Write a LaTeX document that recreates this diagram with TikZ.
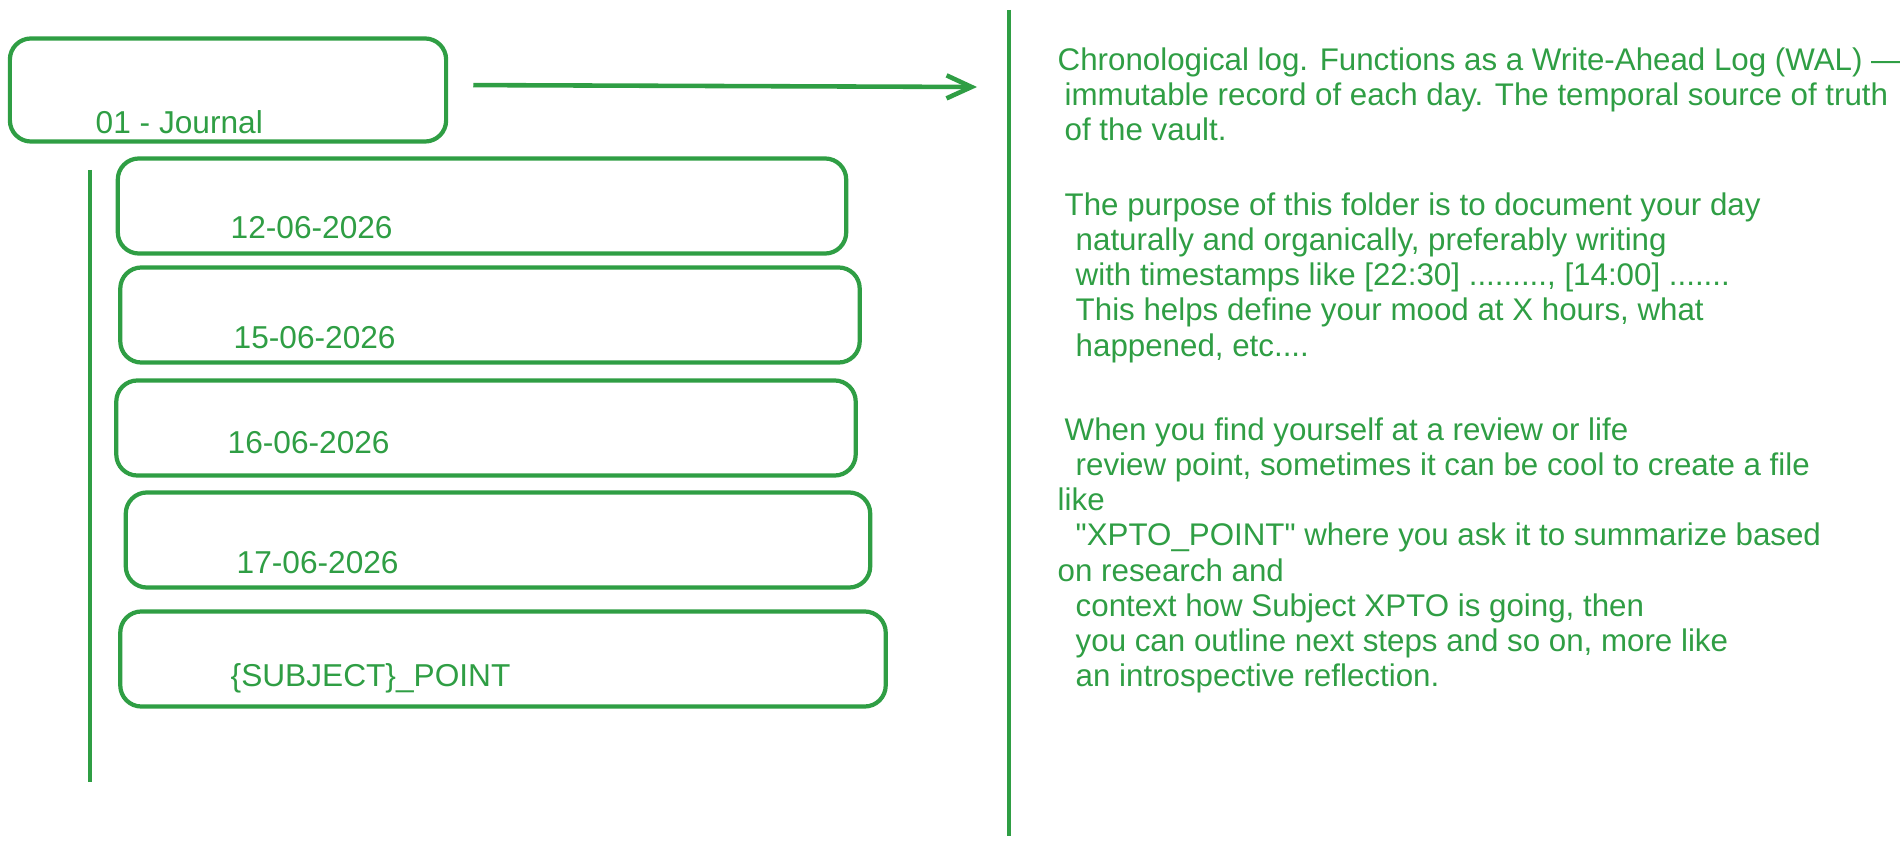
\documentclass[tikz,border=0pt]{standalone}
\usepackage{fontspec}
\setmainfont{Liberation Sans}
\usetikzlibrary{arrows.meta,positioning}

\definecolor{jgreen}{HTML}{2F9E44}
\newcommand{\indA}{\hspace*{0.7mm}}
\newcommand{\indB}{\hspace*{1.8mm}}

\begin{document}
\begin{tikzpicture}[
    x=0.01cm,
    y=-0.01cm,
    >={Straight Barb[length=2.5mm, width=2.3mm]},
    folder/.style={draw=jgreen, line width=1.2pt, rounded corners=6pt, inner sep=0pt},
    entry/.style={folder, minimum height=0.95cm},
    lbl/.style={anchor=west, inner sep=0pt, text=jgreen, font=\fontsize{9}{11}\selectfont},
    para/.style={anchor=north west, inner sep=0pt, align=left, text=jgreen, font=\fontsize{8.9}{10}\selectfont},
    rule/.style={draw=jgreen, line width=1.2pt},
    flow/.style={->, draw=jgreen, line width=1.3pt}
]
\useasboundingbox (0,0) rectangle (1900,846);

% folder and its daily entries
\node[folder, minimum width=4.36cm, minimum height=1.03cm] (journal) at (228,90) {};
\node[lbl] (journaltxt) at (95,122) {01 - Journal};

\node[entry, minimum width=7.28cm] (day1) at (482,206) {};
\node[entry, minimum width=7.39cm] (day2) at (490,315) {};
\node[entry, minimum width=7.39cm] (day3) at (486,428) {};
\node[entry, minimum width=7.44cm] (day4) at (498,540) {};
\node[entry, minimum width=7.65cm] (subject) at (503,659) {};

\node[lbl] (day1txt) at (230,228) {12-06-2026};
\node[lbl] (day2txt) at (233,338) {15-06-2026};
\node[lbl] (day3txt) at (227,443) {16-06-2026};
\node[lbl] (day4txt) at (236,563) {17-06-2026};
\node[lbl] (subjecttxt) at (230,678) {\{SUBJECT\}\_POINT};

\draw[rule] (90,170) -- (90,782);
\draw[rule] (1009,10) -- (1009,836);

\coordinate (walend) at (977,87);
\draw[flow, shorten <=0.25cm] ([yshift=0.05cm]journal.east) -- (walend);

% description
\node[para] (wal) at (1057,47) {%
Chronological log. Functions as a Write-Ahead Log (WAL) —\\
\indA immutable record of each day. The temporal source of truth\\
\indA of the vault.};

\node[para] (purpose) at (1057,192) {%
\indA The purpose of this folder is to document your day\\
\indB naturally and organically, preferably writing\\
\indB with timestamps like [22:30] ........., [14:00] .......\\
\indB This helps define your mood at X hours, what\\
\indB happened, etc....};

\node[para] (review) at (1057,417) {%
\indA When you find yourself at a review or life\\
\indB review point, sometimes it can be cool to create a file\\
like\\
\indB \textquotedbl XPTO\_POINT\textquotedbl{} where you ask it to summarize based\\
on research and\\
\indB context how Subject XPTO is going, then\\
\indB you can outline next steps and so on, more like\\
\indB an introspective reflection.};
\end{tikzpicture}
\end{document}
